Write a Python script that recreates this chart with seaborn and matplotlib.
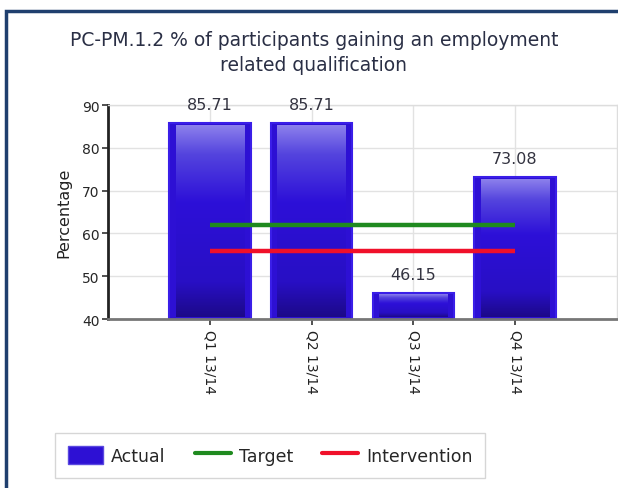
import matplotlib
matplotlib.use("Agg")
import matplotlib.pyplot as plt
import numpy as np
import pandas as pd
import seaborn as sns
from matplotlib.colors import LinearSegmentedColormap
from matplotlib.lines import Line2D
from matplotlib.patches import Patch, Rectangle

sns.set_theme(style="white")
plt.rcParams["font.family"] = ["DejaVu Sans"]

# Data
quarters = ["Q1 13/14", "Q2 13/14", "Q3 13/14", "Q4 13/14"]
actual = [85.71, 85.71, 46.15, 73.08]
target = [62, 62, 62, 62]
intervention = [56, 56, 56, 56]
title = "PC-PM.1.2 % of participants gaining an employment\nrelated qualification"

df = pd.DataFrame({"Quarter": quarters, "Actual": actual})

fig = plt.figure(figsize=(6.18, 4.89), dpi=100)
ax = fig.add_axes([0.175, 0.3456, 0.823, 0.4374])

sns.barplot(data=df, x="Quarter", y="Actual", color="#2d10d4", saturation=1,
            width=0.8, edgecolor="#3a1ee8", linewidth=1.5, ax=ax, zorder=2)

# vertical gradient inside each bar (lighter at the top)
grad_cmap = LinearSegmentedColormap.from_list(
    "bar", [(0, "#1c0988"), (0.18, "#280fc4"), (0.6, "#2d10d8"),
            (0.85, "#5444de"), (1, "#8c80ec")])
grad = np.linspace(0, 1, 256).reshape(-1, 1)
for p in ax.patches:
    x0, w, h = p.get_x(), p.get_width(), p.get_height()
    inset = w * 0.08
    ax.imshow(grad, cmap=grad_cmap, origin="lower", aspect="auto",
              extent=(x0 + inset, x0 + w - inset, 40.4, p.get_y() + h - 0.5),
              zorder=3, interpolation="bicubic")
    ax.annotate(f"{p.get_y() + h:.2f}", (x0 + w / 2, p.get_y() + h),
                xytext=(0, 8), textcoords="offset points", ha="center", va="bottom",
                fontsize=11.5, color="#333340", annotation_clip=False)

pos = np.arange(len(quarters))
ax.plot(pos, target, color="#1f8a1f", lw=3.2, zorder=4, solid_capstyle="butt")
ax.plot(pos, intervention, color="#f0102a", lw=3.2, zorder=4, solid_capstyle="butt")

ax.set_xlim(-1, len(quarters))
ax.set_ylim(40, 90)
ax.set_yticks(np.arange(40, 91, 10))
ax.tick_params(axis="y", labelsize=10, length=4, width=1.2, color="#333", pad=2, left=True)
ax.tick_params(axis="x", labelsize=10, length=4, width=1.2, color="#333", pad=3, bottom=True)
ax.set_xticks(pos)
ax.set_xticklabels(quarters, rotation=270, color="#222")
ax.set_xlabel("")
ax.set_ylabel("Percentage", fontsize=11.5, color="#222", labelpad=8)

ax.grid(True, color="#e2e2e2", lw=1, zorder=0)
ax.set_axisbelow(True)
for side in ["top", "right"]:
    ax.spines[side].set_color("#dddddd")
    ax.spines[side].set_linewidth(1)
ax.spines["left"].set_color("#222222")
ax.spines["left"].set_linewidth(2)
ax.spines["bottom"].set_color("#777777")
ax.spines["bottom"].set_linewidth(2)

fig.text(0.508, 0.892, title, ha="center", va="center", fontsize=13.5,
         color="#2a2f45", multialignment="center", linespacing=1.4)

handles = [Patch(facecolor="#2d10d4", edgecolor="#5a48e0", label="Actual"),
           Line2D([0], [0], color="#1f8a1f", lw=3, label="Target"),
           Line2D([0], [0], color="#f0102a", lw=3, label="Intervention")]
leg = fig.legend(handles=handles, loc="center", bbox_to_anchor=(0.437, 0.067), ncol=3,
                 fontsize=12.5, frameon=True, fancybox=False, edgecolor="#cccccc",
                 handlelength=2.05, handleheight=1.2, columnspacing=1.7,
                 borderpad=0.75, handletextpad=0.45)
leg.get_frame().set_linewidth(1)

# outer frame of the chart panel
fig.patches.append(Rectangle((0.0105, -0.2), 1.2, 0.9755 + 0.2, transform=fig.transFigure,
                             fill=False, edgecolor="#1f3f6e", lw=2.5, zorder=10))

fig.savefig("out.png", dpi=100, facecolor="white")
